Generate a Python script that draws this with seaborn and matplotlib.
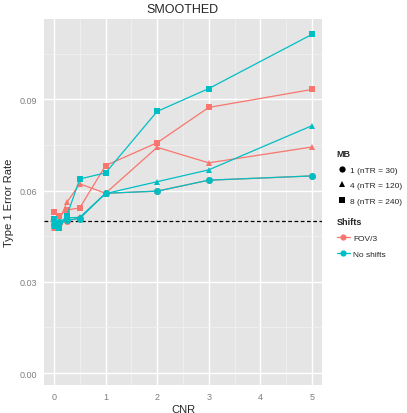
import numpy as np
import pandas as pd
import matplotlib
matplotlib.use("Agg")
import matplotlib.pyplot as plt
from matplotlib.lines import Line2D
import seaborn as sns

cnr = [0, 0.1, 0.25, 0.5, 1, 2, 3, 5]

# FOV/3 shifts
fov_mb1 = [0.0485, 0.0492, 0.0500, 0.0510, 0.0591, 0.0598, 0.0634, 0.0648]
fov_mb4 = [0.0478, 0.0500, 0.0561, 0.0622, 0.0591, 0.0742, 0.0691, 0.0743]
fov_mb8 = [0.0529, 0.0517, 0.0536, 0.0543, 0.0682, 0.0757, 0.0873, 0.0932]
# No shifts
nos_mb1 = [0.0490, 0.0495, 0.0503, 0.0508, 0.0591, 0.0598, 0.0634, 0.0648]
nos_mb4 = [0.0482, 0.0498, 0.0510, 0.0512, 0.0590, 0.0629, 0.0668, 0.0813]
nos_mb8 = [0.0507, 0.0476, 0.0517, 0.0638, 0.0658, 0.0860, 0.0935, 0.1113]

mb_labels = ["1 (nTR = 30)", "4 (nTR = 120)", "8 (nTR = 240)"]
shift_labels = ["FOV/3", "No shifts"]

rows = []
for shift, series in zip(shift_labels, [[fov_mb1, fov_mb4, fov_mb8], [nos_mb1, nos_mb4, nos_mb8]]):
    for mb, vals in zip(mb_labels, series):
        for c, v in zip(cnr, vals):
            rows.append({"CNR": c, "rate": v, "Shifts": shift, "MB": mb})
df = pd.DataFrame(rows)

palette = {"FOV/3": "#F8766D", "No shifts": "#00BFC4"}
markers = {"1 (nTR = 30)": "o", "4 (nTR = 120)": "^", "8 (nTR = 240)": "s"}

sns.set_style("darkgrid", {"axes.facecolor": "#E5E5E5", "grid.color": "white"})
plt.rcParams["font.family"] = ["Liberation Sans", "DejaVu Sans"]

fig = plt.figure(figsize=(4.07, 4.14), dpi=100)
ax = fig.add_axes([0.108, 0.0676, 0.683, 0.8844])

sns.lineplot(data=df, x="CNR", y="rate", hue="Shifts", style="MB", palette=palette,
             markers=markers, dashes=False, linewidth=0.9, markersize=5,
             markeredgewidth=0, legend=False, ax=ax, hue_order=shift_labels)

ax.axhline(0.05, color="black", linestyle=(0, (3, 2)), linewidth=0.9, zorder=1)

ax.set_xlim(-0.194, 5.194)
ax.set_ylim(-0.0039, 0.1164)
ax.set_xticks([0, 1, 2, 3, 4, 5])
ax.set_xticks([0.5, 1.5, 2.5, 3.5, 4.5], minor=True)
ax.set_yticks([0.0, 0.03, 0.06, 0.09])
ax.set_yticks([0.015, 0.045, 0.075, 0.105], minor=True)
ax.set_yticklabels(["0.00", "0.03", "0.06", "0.09"])
ax.grid(which="major", color="white", linewidth=1.0)
ax.grid(which="minor", color="#F2F2F2", linewidth=0.5)
ax.set_axisbelow(True)
for s in ax.spines.values():
    s.set_visible(False)
ax.tick_params(which="major", length=3, color="#7F7F7F", labelsize=6.5,
               labelcolor="#7F7F7F", width=0.6, pad=2)
ax.tick_params(which="minor", length=0)
ax.set_xlabel("CNR", fontsize=8, labelpad=2)
ax.set_ylabel("Type 1 Error Rate", fontsize=8, labelpad=4)
ax.set_title("SMOOTHED", fontsize=9, pad=5)

# legend: MB
leg1 = ax.legend(handles=[Line2D([], [], color="black", marker=markers[m], linestyle="",
                                 markersize=4.5, markeredgewidth=0) for m in mb_labels],
                 labels=mb_labels, title="MB", loc="upper left",
                 bbox_to_anchor=(1.032, 0.661), frameon=False, fontsize=6,
                 title_fontproperties={"weight": "bold", "size": 6.5},
                 handlelength=1.2, handletextpad=0.4, labelspacing=0.95,
                 alignment="left", borderpad=0.2)
ax.add_artist(leg1)
ax.legend(handles=[Line2D([], [], color=palette[s], marker="o", markersize=4.5,
                          markeredgewidth=0, linewidth=0.9) for s in shift_labels],
          labels=shift_labels, title="Shifts", loc="upper left",
          bbox_to_anchor=(1.032, 0.474), frameon=False, fontsize=6,
          title_fontproperties={"weight": "bold", "size": 6.5},
          handlelength=1.6, handletextpad=0.4, labelspacing=0.95,
          alignment="left", borderpad=0.2)

fig.savefig("out.png", dpi=100)
